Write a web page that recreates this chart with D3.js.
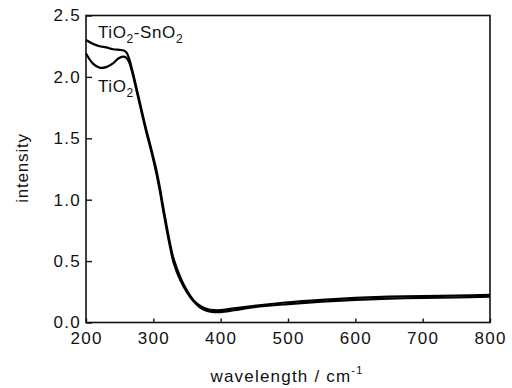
<!DOCTYPE html>
<html>
<head>
<meta charset="utf-8">
<script src="https://cdn.jsdelivr.net/npm/d3@7"></script>
<style>
body { margin: 0; background: #fff; }
text { font-family: "Liberation Sans", Arial, sans-serif; fill: #111; }
</style>
</head>
<body>
<svg id="chart" width="512" height="388"></svg>
<script>
// wavelength samples and intensities
var wlSnO2 = [200,210,220,230,240,250,256,260,264,268,275,283,290,298,305,310,315,320,325,330,340,350,360,370,380,390,400,420,450,500,550,600,650,700,750,800]
var tiSnO2 = [2.30,2.27,2.25,2.24,2.225,2.22,2.215,2.20,2.15,2.07,1.91,1.72,1.56,1.39,1.23,1.09,0.93,0.78,0.64,0.52,0.37,0.26,0.18,0.135,0.11,0.10,0.10,0.115,0.135,0.165,0.185,0.20,0.21,0.215,0.22,0.225]
var wlTiO2 = [200,210,220,230,240,248,255,260,264,268,275,283,290,298,305,310,315,320,325,330,340,350,360,370,380,390,400,420,450,500,550,600,650,700,750,800]
var tiO2 = [2.19,2.11,2.075,2.08,2.11,2.15,2.165,2.155,2.12,2.05,1.89,1.70,1.54,1.37,1.20,1.06,0.90,0.75,0.61,0.49,0.345,0.245,0.17,0.12,0.095,0.085,0.085,0.10,0.125,0.15,0.17,0.185,0.195,0.20,0.205,0.21]
var xTicks = [200,300,400,500,600,700,800]
var yTicks = [0.0,0.5,1.0,1.5,2.0,2.5]

var svg = d3.select('#chart')
var x = d3.scaleLinear().domain([200,800]).range([86,490])
var y = d3.scaleLinear().domain([0,2.5]).range([322.5,15.5])

// frame
svg.append('rect')
	.attr('x',86).attr('y',15.5)
	.attr('width',404).attr('height',307)
	.attr('fill','none').attr('stroke','#111').attr('stroke-width',1.6)

var xAxis = svg.append('g').attr('transform','translate(0,322.5)')
	.call(d3.axisBottom(x).tickValues(xTicks).tickSizeInner(-4).tickSizeOuter(0).tickPadding(9).tickFormat(d3.format('d')))
var yAxis = svg.append('g').attr('transform','translate(86,0)')
	.call(d3.axisLeft(y).tickValues(yTicks).tickSizeInner(-6).tickSizeOuter(0).tickPadding(5).tickFormat(d3.format('.1f')))
svg.selectAll('.domain').remove()
svg.selectAll('.tick line').attr('stroke','#111').attr('stroke-width',1.4)
svg.selectAll('.tick text')
	.style('font-size','17px').style('letter-spacing','1.3px').attr('fill','#111')
xAxis.selectAll('.tick text').attr('dy','0.71em')

var line = d3.line().curve(d3.curveCatmullRom.alpha(0.5))
	.x(d=>x(d[0])).y(d=>y(d[1]))

svg.append('path').datum(d3.zip(wlTiO2,tiO2))
	.attr('d',line).attr('fill','none').attr('stroke','#000').attr('stroke-width',2.2)
svg.append('path').datum(d3.zip(wlSnO2,tiSnO2))
	.attr('d',line).attr('fill','none').attr('stroke','#000').attr('stroke-width',2.2)

// curve labels
var l1 = svg.append('text').attr('x',98).attr('y',37.5).style('font-size','17px').style('letter-spacing','0.6px')
l1.append('tspan').text('TiO')
l1.append('tspan').attr('dy',5).style('font-size','12px').text('2')
l1.append('tspan').attr('dy',-5).text('-SnO')
l1.append('tspan').attr('dy',5).style('font-size','12px').text('2')

var l2 = svg.append('text').attr('x',98).attr('y',91.5).style('font-size','17px').style('letter-spacing','0.6px')
l2.append('tspan').text('TiO')
l2.append('tspan').attr('dy',5).style('font-size','12px').text('2')

// axis titles
svg.append('text')
	.attr('transform','translate(28,168) rotate(-90)')
	.attr('text-anchor','middle')
	.style('font-size','17px').style('letter-spacing','0.8px')
	.text('intensity')

var xt = svg.append('text').attr('x',287).attr('y',382)
	.attr('text-anchor','middle')
	.style('font-size','17px').style('letter-spacing','1.2px')
xt.append('tspan').text('wavelength / cm')
xt.append('tspan').attr('dy',-8).style('font-size','11px').text('-1')
</script>
</body>
</html>
